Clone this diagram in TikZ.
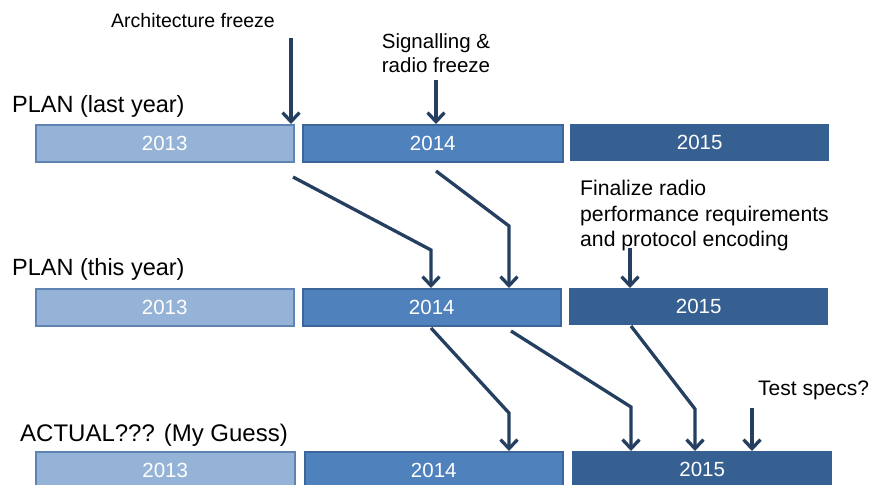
\documentclass[tikz,border=0pt]{standalone}
\usepackage{fontspec}
\setmainfont{Liberation Sans}
\usetikzlibrary{arrows.meta}
\definecolor{yr13}{HTML}{95B3D7}
\definecolor{yr13line}{HTML}{5F83B3}
\definecolor{yr14}{HTML}{4F81BD}
\definecolor{yr14line}{HTML}{3C6699}
\definecolor{yr15}{HTML}{376092}
\definecolor{navy}{HTML}{243F60}
\tikzset{
  bar/.style={anchor=north west, inner sep=0pt, minimum height=37pt, text=white,
    font=\fontsize{20.5}{24}\selectfont},
  bar13/.style={bar, fill=yr13, draw=yr13line, line width=1.5pt},
  bar14/.style={bar, fill=yr14, draw=yr14line, line width=1.5pt},
  bar15/.style={bar, fill=yr15},
  rowlabel/.style={anchor=base west, inner sep=0pt, font=\fontsize{23.5}{27}\selectfont},
  note/.style={inner sep=0pt, font=\fontsize{20.5}{24.5}\selectfont},
  arr/.style={draw=navy, line width=3.3pt, -{Straight Barb[length=9pt,width=17pt]}}
}
\begin{document}
\begin{tikzpicture}[x=1pt,y=-1pt]
\useasboundingbox (0,0) rectangle (874,484);
% rows of years
\node[bar13, minimum width=258pt] (p13) at (35,124) {2013}; % plan last year
\node[bar14, minimum width=260pt] (p14) at (302,124) {2014};
\node[bar15, minimum width=259pt] (p15) at (570,124) {2015};
\node[bar13, minimum width=258pt] (t13) at (35,288) {2013}; % plan this year
\node[bar14, minimum width=258pt] (t14) at (302,288) {2014};
\node[bar15, minimum width=259pt] (t15) at (569,288) {2015};
\node[bar13, minimum width=259pt] (a13) at (35,451) {2013}; % actual
\node[bar14, minimum width=258pt] (a14) at (304,451) {2014};
\node[bar15, minimum width=260pt] (a15) at (572,451) {2015};
% row labels
\node[rowlabel] (lastyear) at (12,112) {PLAN (last year)};
\node[rowlabel] (thisyear) at (12,275) {PLAN (this year)};
\node[rowlabel, font=\fontsize{24}{28}\selectfont] (guess) at (20,441) {ACTUAL??? (My Guess)};
% milestones
\node[note, anchor=base west, font=\fontsize{19.5}{24}\selectfont] (archtxt) at (111,28) {Architecture freeze};
\node[note, anchor=north, align=center] (sigtxt) at (436,33) {Signalling \&\\radio freeze};
\node[note, anchor=north west, align=left, font=\fontsize{21.2}{25.5}\selectfont] (fintxt) at (580,180) {Finalize radio\\performance requirements\\and protocol encoding};
\node[note, anchor=base west, font=\fontsize{21}{25}\selectfont] (testtxt) at (758,395) {Test specs?};
% arrows
\coordinate (arch) at (291,38);
\coordinate (sig) at (436,80);
\coordinate (archA) at (293,177);
\coordinate (archB) at (431,250);
\coordinate (sigA) at (436,171);
\coordinate (sigB) at (509,226);
\coordinate (fin) at (630,248);
\coordinate (archC) at (431,328);
\coordinate (archD) at (509,413);
\coordinate (sigC) at (511,331);
\coordinate (sigD) at (631,407);
\coordinate (finA) at (631,326);
\coordinate (finB) at (695,409);
\coordinate (test) at (752,408);
\draw[arr] (arch) -- (arch |- p13.north); % architecture
\draw[arr] (sig) -- (sig |- p14.north); % signalling
\draw[arr] (archA) -- (archB) -- (archB |- t14.north);
\draw[arr] (sigA) -- (sigB) -- (sigB |- t14.north);
\draw[arr] (fin) -- (fin |- t15.north); % finalize
\draw[arr] (archC) -- (archD) -- (archD |- a14.north);
\draw[arr] (sigC) -- (sigD) -- (sigD |- a15.north);
\draw[arr] (finA) -- (finB) -- (finB |- a15.north);
\draw[arr] (test) -- (test |- a15.north); % test specs
\end{tikzpicture}
\end{document}
